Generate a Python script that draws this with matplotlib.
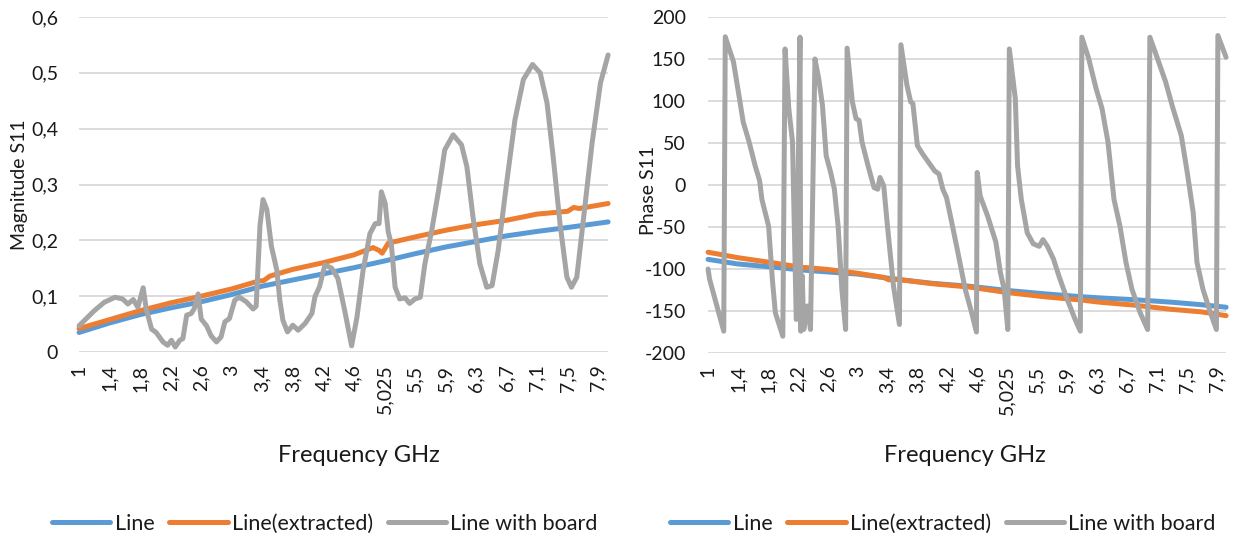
import matplotlib
matplotlib.use("Agg")
import matplotlib.pyplot as plt

plt.rcParams['font.family'] = ['Lato', 'DejaVu Sans']

# category labels on the frequency axis (one every 16 samples)
tick_pos = [1 + 0.4 * k for k in range(18)]
tick_labels = ['1', '1,4', '1,8', '2,2', '2,6', '3', '3,4', '3,8', '4,2', '4,6',
               '5,025', '5,5', '5,9', '6,3', '6,7', '7,1', '7,5', '7,9']
x_end = 7.93

# ---- magnitude S11 ----
mag_line_f = [1.0, 1.4, 1.8, 2.2, 2.6, 3.0, 3.4, 3.8, 4.2, 4.6, 5.0, 5.4, 5.8,
              6.2, 6.6, 7.0, 7.4, 7.93]
mag_line = [0.035, 0.052, 0.067, 0.079, 0.090, 0.103, 0.118, 0.129, 0.140, 0.151,
            0.163, 0.176, 0.188, 0.198, 0.208, 0.216, 0.223, 0.233]

mag_extr_f = [1.0, 1.4, 1.8, 2.2, 2.6, 3.0, 3.35, 3.42, 3.5, 3.8, 4.2, 4.6, 4.85,
              4.93, 4.97, 5.05, 5.4, 5.8, 6.2, 6.6, 7.0, 7.4, 7.48, 7.55, 7.93]
mag_extr = [0.042, 0.058, 0.074, 0.088, 0.100, 0.113, 0.127, 0.128, 0.136, 0.148,
            0.160, 0.174, 0.187, 0.182, 0.177, 0.195, 0.206, 0.218, 0.228, 0.236,
            0.247, 0.252, 0.259, 0.257, 0.266]

mag_board_f = [1.0, 1.20, 1.33, 1.47, 1.57, 1.64, 1.71, 1.77, 1.84, 1.88, 1.95,
               2.01, 2.10, 2.16, 2.21, 2.26, 2.32, 2.36, 2.41, 2.47, 2.51, 2.56,
               2.60, 2.67, 2.73, 2.80, 2.86, 2.91, 2.97, 3.04, 3.10, 3.19, 3.28,
               3.32, 3.37, 3.41, 3.46, 3.52, 3.59, 3.63, 3.67, 3.73, 3.80, 3.87,
               3.96, 4.05, 4.09, 4.15, 4.22, 4.31, 4.39, 4.48, 4.57, 4.64, 4.72,
               4.81, 4.88, 4.93, 4.96, 5.01, 5.05, 5.09, 5.14, 5.20, 5.27, 5.33,
               5.40, 5.47, 5.53, 5.62, 5.71, 5.79, 5.90, 6.01, 6.08, 6.16, 6.25,
               6.34, 6.41, 6.49, 6.60, 6.71, 6.82, 6.94, 7.04, 7.13, 7.21, 7.30,
               7.39, 7.45, 7.52, 7.61, 7.72, 7.83, 7.93]
mag_board = [0.047, 0.074, 0.089, 0.098, 0.095, 0.086, 0.094, 0.080, 0.115, 0.077,
             0.041, 0.035, 0.018, 0.012, 0.021, 0.009, 0.021, 0.024, 0.066, 0.069,
             0.078, 0.104, 0.059, 0.047, 0.029, 0.018, 0.027, 0.054, 0.060, 0.093,
             0.098, 0.090, 0.077, 0.082, 0.226, 0.273, 0.255, 0.189, 0.147, 0.093,
             0.057, 0.036, 0.048, 0.039, 0.051, 0.069, 0.099, 0.117, 0.156, 0.150,
             0.132, 0.074, 0.011, 0.062, 0.146, 0.212, 0.230, 0.230, 0.287, 0.266,
             0.215, 0.194, 0.116, 0.095, 0.097, 0.087, 0.095, 0.098, 0.158, 0.218,
             0.290, 0.362, 0.389, 0.371, 0.332, 0.242, 0.158, 0.116, 0.119, 0.182,
             0.302, 0.416, 0.488, 0.515, 0.500, 0.446, 0.350, 0.230, 0.134, 0.116,
             0.134, 0.242, 0.374, 0.482, 0.532]

# ---- phase S11 ----
ph_line_f = [1.0, 1.4, 1.9, 2.23, 2.6, 3.0, 3.5, 4.0, 4.5, 5.0, 5.5, 6.0, 6.25,
             6.7, 7.2, 7.6, 7.93]
ph_line = [-88.5, -94, -98, -101, -103.5, -106, -112, -117, -120.5, -125.5,
           -129.5, -133, -134.4, -136.5, -139.5, -142.5, -145.5]

ph_extr_f = [1.0, 1.4, 1.9, 2.23, 2.6, 3.0, 3.35, 3.42, 3.5, 4.0, 4.5, 5.0, 5.5,
             6.0, 6.25, 6.7, 7.2, 7.6, 7.93]
ph_extr = [-80, -86.5, -93, -97.7, -100.5, -105, -110, -113, -112, -117.5, -121.5,
           -128, -133, -137, -139.6, -143, -148, -151, -155.5]

ph_board_f = [1.0, 1.02, 1.21, 1.23, 1.34, 1.42, 1.47, 1.55, 1.63, 1.69, 1.72,
              1.81, 1.86, 1.90, 2.0, 2.03, 2.08, 2.13, 2.18, 2.23, 2.24, 2.26,
              2.28, 2.33, 2.37, 2.43, 2.48, 2.53, 2.58, 2.64, 2.69, 2.74, 2.79,
              2.84, 2.86, 2.93, 2.98, 3.02, 3.06, 3.14, 3.22, 3.27, 3.30, 3.35,
              3.40, 3.48, 3.56, 3.58, 3.66, 3.71, 3.74, 3.80, 3.87, 3.95, 4.03,
              4.09, 4.14, 4.19, 4.27, 4.33, 4.44, 4.52, 4.59, 4.60, 4.64, 4.74,
              4.85, 4.91, 4.96, 5.01, 5.03, 5.11, 5.14, 5.19, 5.27, 5.35, 5.43,
              5.48, 5.54, 5.62, 5.70, 5.80, 5.91, 5.98, 6.00, 6.09, 6.19, 6.27,
              6.35, 6.43, 6.51, 6.59, 6.67, 6.78, 6.88, 6.91, 7.01, 7.12, 7.22,
              7.33, 7.41, 7.49, 7.54, 7.62, 7.72, 7.80, 7.82, 7.93]
ph_board = [-100, -112, -174, 176.5, 146.6, 103, 75, 51, 23, 5, -17,
            -49, -112, -152, -180, 162, 91, 51, -160, 176, -174, -108,
            -172, -144, -172, 150, 127, 95, 35, 15, -5, -49, -124.6,
            -172, 163, 99, 79, 77, 51, 23, -3, -5, 9, -1,
            -49, -120, -166, 167, 119, 99, 97, 47, 37, 27, 17,
            13, -5, -15, -49, -75, -124, -150, -175, 15, -13, -37,
            -68, -104, -124, -172, 162, 103, 23, -17, -57, -70, -73,
            -65, -73, -88, -110, -135, -160, -174, 176, 151, 115, 91,
            51, -17, -49, -92, -124, -152, -172, 176, 151, 123, 91,
            59, 15, -33, -92, -124, -152, -172, 178, 152]

BLUE = '#5B9BD5'
ORANGE = '#ED7D31'
GRAY = '#A5A5A5'
GRID = '#D9D9D9'
TEXT = '#1a1a1a'
lw = 3.6

fig = plt.figure(figsize=(12.37, 5.37), dpi=100)
ax1 = fig.add_axes([0.0639, 0.3445, 0.4277, 0.6238])
ax2 = fig.add_axes([0.5724, 0.3426, 0.4188, 0.6257])


def style(ax, ylim, yticks, ylabels, ypad):
    ax.set_xlim(1, x_end)
    ax.set_ylim(*ylim)
    ax.set_yticks(yticks)
    ax.set_yticklabels(ylabels)
    ax.set_xticks(tick_pos)
    ax.set_xticklabels(tick_labels, rotation=90)
    for s in ax.spines.values():
        s.set_visible(False)
    ax.grid(axis='y', color=GRID, linewidth=1.3)
    ax.set_axisbelow(True)
    ax.tick_params(axis='y', length=0, pad=ypad, labelsize=14, labelcolor=TEXT)
    ax.tick_params(axis='x', length=0, pad=9, labelsize=14, labelcolor=TEXT)


def draw(ax, series):
    for f, v, c, lab in series:
        ax.plot(f, v, color=c, lw=lw, label=lab, solid_capstyle='round',
                solid_joinstyle='round', clip_on=False)


draw(ax1, [(mag_line_f, mag_line, BLUE, 'Line'),
           (mag_extr_f, mag_extr, ORANGE, 'Line(extracted)'),
           (mag_board_f, mag_board, GRAY, 'Line with board')])
style(ax1, (0, 0.6), [0, 0.1, 0.2, 0.3, 0.4, 0.5, 0.6],
      ['0', '0,1', '0,2', '0,3', '0,4', '0,5', '0,6'], 15)

draw(ax2, [(ph_line_f, ph_line, BLUE, 'Line'),
           (ph_extr_f, ph_extr, ORANGE, 'Line(extracted)'),
           (ph_board_f, ph_board, GRAY, 'Line with board')])
style(ax2, (-200, 200), list(range(-200, 201, 50)),
      [str(v) for v in range(-200, 201, 50)], 16)

W, H = 1237, 537
fig.text(359 / W, 1 - 455 / H, 'Frequency GHz', ha='center', va='center',
         fontsize=17, color=TEXT)
fig.text(965 / W, 1 - 455 / H, 'Frequency GHz', ha='center', va='center',
         fontsize=17, color=TEXT)
fig.text(20 / W, 1 - 185 / H, 'Magnitude S11', ha='center', va='center',
         rotation=90, fontsize=14, color=TEXT)
fig.text(648 / W, 1 - 190 / H, 'Phase S11', ha='center', va='center',
         rotation=90, fontsize=14, color=TEXT)

for ax, cx in ((ax1, 325), (ax2, 943)):
    h, l = ax.get_legend_handles_labels()
    fig.legend(h, l, loc='center', bbox_to_anchor=(cx / W, 13 / H), ncol=3,
               frameon=False, fontsize=15.5, handlelength=2.7, handletextpad=0.2,
               columnspacing=0.7, labelcolor=TEXT)

fig.savefig('out.png', dpi=100, facecolor='white')
